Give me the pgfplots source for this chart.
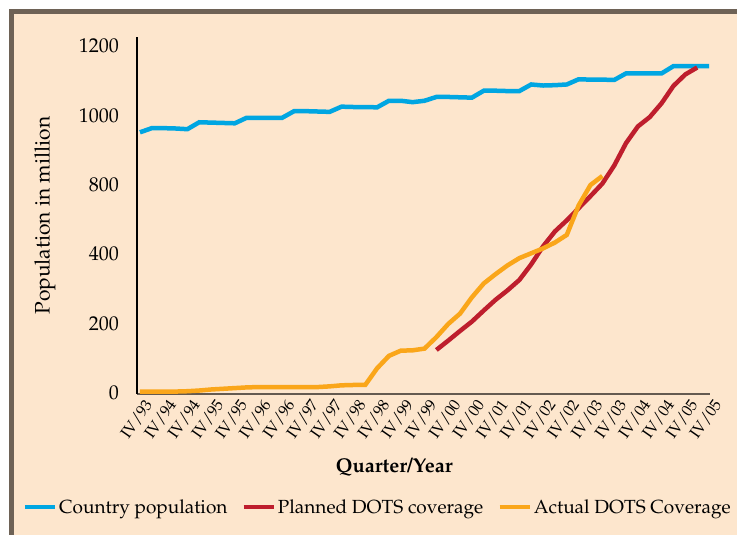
\documentclass[border=0pt]{standalone}
\usepackage[T1]{fontenc}
\usepackage{mathpazo}
\usepackage{pgfplots}
\usepackage{pgfplotstable}
\pgfplotsset{compat=1.18}
\definecolor{peach}{RGB}{253,230,205}
\definecolor{framec}{RGB}{110,98,86}
\definecolor{cblue}{RGB}{0,166,226}
\definecolor{cred}{RGB}{190,30,45}
\definecolor{corange}{RGB}{250,166,26}
\definecolor{axisgray}{RGB}{100,90,80}

\pgfplotstableread{
q pop
0 751
1 763
2 763
3 762
4 760
5 780
6 779
7 778
8 777
9 793
10 793
11 793
12 793
13 812
14 812
15 811
16 810
17 825
18 824
19 824
20 823
21 842
22 842
23 838
24 842
25 853
26 853
27 852
28 851
29 871
30 871
31 870
32 870
33 889
34 886
35 887
36 889
37 904
38 903
39 903
40 902
41 921
42 921
43 921
44 921
45 942
46 942
47 942
48 942
}\poptable

\pgfplotstableread{
q plan
25 123
26 150
27 178
28 205
29 237
30 268
31 295
32 325
33 370
34 422
35 465
36 497
37 532
38 567
39 603
40 655
41 720
42 768
43 795
44 835
45 885
46 918
47 938
}\plantable

\pgfplotstableread{
q act
0 3
1 3
2 3
3 3
4 4
5 6
6 9
7 11
8 13
9 15
10 16
11 16
12 16
13 16
14 16
15 16
16 18
17 21
18 22
19 22
20 70
21 106
22 121
23 122
24 127
25 160
26 198
27 228
28 275
29 315
30 342
31 367
32 388
33 402
34 416
35 433
36 455
37 540
38 599
39 625
}\acttable

\begin{document}
\begin{tikzpicture}
\clip (0pt,0pt) rectangle (737pt,535pt);
\fill[white] (0pt,0pt) rectangle (737pt,535pt);
\fill[peach] (11pt,-10pt) rectangle (760pt,523pt);
\draw[framec, line width=5pt] (11pt,-10pt) -- (11pt,523pt) -- (760pt,523pt);
\begin{axis}[
  at={(137pt,141pt)}, anchor=south west,
  scale only axis, width=573pt, height=357pt,
  xmin=-0.25, xmax=48.08, ymin=-4, ymax=1026,
  axis x line*=bottom, axis y line*=left,
  x axis line style={axisgray, line width=1.8pt},
  y axis line style={black, line width=1.1pt},
  major tick length=0pt,
  xtick={0,2,...,48},
  xticklabels={IV/93,IV/94,IV/94,IV/95,IV/95,IV/96,IV/96,IV/97,IV/97,IV/98,IV/98,IV/99,IV/99,IV/00,IV/00,IV/01,IV/01,IV/02,IV/02,IV/03,IV/03,IV/04,IV/04,IV/05,IV/05},
  ytick={0,200,400,600,800,1000},
  yticklabels={0,200,400,800,1000,1200},
  yticklabel style={font=\fontsize{20}{24}\selectfont, anchor=east, inner sep=0pt, xshift=-18pt},
  xticklabel style={font=\fontsize{16}{19}\selectfont, rotate=55, anchor=north east, inner sep=0pt, yshift=-5pt, xshift=-1pt},
  xlabel={\textbf{Quarter/Year}},
  xlabel style={at={(axis description cs:0.449,-0.2045)}, anchor=center, font=\fontsize{20}{24}\selectfont},
  ylabel={Population in million},
  ylabel style={at={(axis description cs:-0.1606,0.5)}, anchor=center, font=\fontsize{21}{24}\selectfont},
  legend style={at={(axis description cs:-0.1998,-0.3165)}, anchor=west, legend columns=3, draw=none, fill=none, inner sep=0pt,
    font=\fontsize{19}{22}\selectfont, /tikz/every even column/.append style={column sep=12pt}},
  legend image code/.code={\draw[#1, line width=4.5pt] (0pt,0pt) -- (30pt,0pt);},
  clip=false,
]
\addplot[cblue, line width=4.5pt] table[x=q, y=pop] {\poptable};
\addlegendentry{Country population}
\addplot[cred, line width=4.5pt] table[x=q, y=plan] {\plantable};
\addlegendentry{Planned DOTS coverage}
\addplot[corange, line width=4.5pt] table[x=q, y=act] {\acttable};
\addlegendentry{Actual DOTS Coverage}
\end{axis}
\end{tikzpicture}
\end{document}
